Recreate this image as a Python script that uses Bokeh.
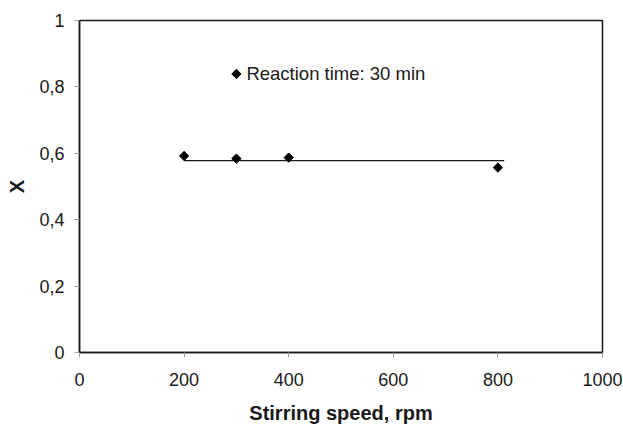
from bokeh.plotting import figure
from bokeh.models import Range1d, FixedTicker, Label
from bokeh.embed import file_html
from bokeh.resources import INLINE

# ---- data ----
stirring_speed = [200, 300, 400, 800]
conversion = [0.592, 0.584, 0.587, 0.557]
fit_x = [200, 812]
fit_y = [0.578, 0.578]
x_ticks = [0, 200, 400, 600, 800, 1000]
y_ticks = [0, 0.2, 0.4, 0.6, 0.8, 1]
y_tick_labels = ["0", "0,2", "0,4", "0,6", "0,8", "1"]
series_label = "Reaction time: 30 min"

# legend placement (layout, in axis units)
LEGEND_X = 300
LEGEND_Y = 0.839

FONT = "Liberation Sans"
TXT = "#1a1a1a"

p = figure(width=623, height=426, output_backend="svg", toolbar_location=None,
           x_range=Range1d(0, 1000), y_range=Range1d(0, 1),
           min_border_left=79, min_border_right=21, min_border_top=20,
           min_border_bottom=71)
p.background_fill_color = "white"
p.border_fill_color = "white"
p.outline_line_color = TXT
p.outline_line_width = 1.5
p.xgrid.visible = False
p.ygrid.visible = False

for ax in (p.xaxis[0], p.yaxis[0]):
    ax.axis_line_color = TXT
    ax.axis_line_width = 1.5
    ax.major_tick_line_color = "#9a9a9a"
    ax.major_tick_line_width = 1
    ax.minor_tick_line_color = None
    ax.major_tick_in = 0
    ax.major_tick_out = 5
    ax.major_label_text_font = FONT
    ax.major_label_text_font_size = "18px"
    ax.major_label_text_color = TXT
    ax.axis_label_text_font = FONT
    ax.axis_label_text_font_style = "bold"
    ax.axis_label_text_font_size = "20px"
    ax.axis_label_text_color = TXT

p.xaxis.ticker = FixedTicker(ticks=x_ticks)
p.xaxis.major_label_standoff = 15
p.xaxis.axis_label = "Stirring speed, rpm"
p.xaxis.axis_label_standoff = 13

p.yaxis.ticker = FixedTicker(ticks=y_ticks)
p.yaxis.major_label_overrides = {t: l for t, l in zip(y_ticks, y_tick_labels)}
p.yaxis.major_label_standoff = 10
p.yaxis.axis_label = "X"
p.yaxis.axis_label_standoff = 8

p.line(fit_x, fit_y, line_color=TXT, line_width=1.3)
p.scatter(stirring_speed, conversion, marker="square", angle=0.785398,
          size=6.6, fill_color="black", line_color="black")

# legend key and text
p.scatter([LEGEND_X], [LEGEND_Y], marker="square", angle=0.785398,
          size=6.6, fill_color="black", line_color="black")
p.add_layout(Label(x=LEGEND_X, y=LEGEND_Y, text=series_label, x_offset=10,
                   text_baseline="middle", text_align="left",
                   text_font=FONT, text_font_size="18.5px", text_color=TXT))

open("out.html", "w").write(file_html(p, INLINE))
